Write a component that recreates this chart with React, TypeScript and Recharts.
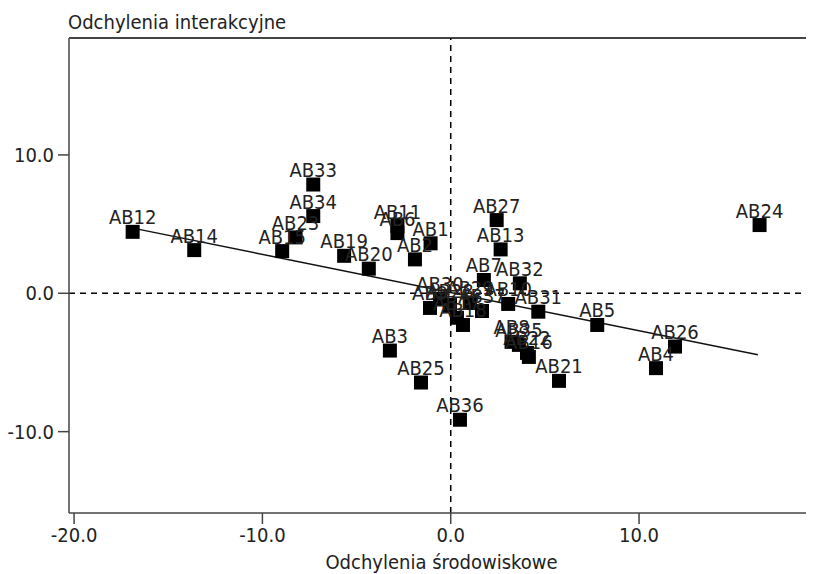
import React from 'react';
import { ScatterChart, Scatter, XAxis, YAxis, ReferenceLine, LabelList } from 'recharts';

const names = [
  'AB12', 'AB14', 'AB15', 'AB23', 'AB34', 'AB33', 'AB19', 'AB20', 'AB11', 'AB6',
  'AB1', 'AB2', 'AB27', 'AB13', 'AB7', 'AB32', 'AB10', 'AB31', 'AB5', 'AB4',
  'AB26', 'AB24', 'AB3', 'AB25', 'AB36', 'AB21', 'AB8', 'AB35', 'AB22', 'AB16',
  'AB9', 'AB30', 'AB28', 'AB17', 'AB18', 'AB29', 'AB37',
];
const envDev = [
  -16.89, -13.62, -8.95, -8.24, -7.30, -7.30, -5.66, -4.35, -2.83, -2.83,
  -1.07, -1.90, 2.44, 2.65, 1.76, 3.67, 3.05, 4.65, 7.78, 10.90,
  11.91, 16.40, -3.23, -1.58, 0.49, 5.75, 3.23, 3.62, 4.05, 4.15,
  -1.10, -0.57, -0.04, 0.33, 0.65, 1.02, 1.66,
];
const interDev = [
  4.44, 3.12, 3.05, 4.04, 5.58, 7.86, 2.71, 1.78, 4.86, 4.35,
  3.61, 2.45, 5.29, 3.17, 0.96, 0.72, -0.77, -1.33, -2.29, -5.41,
  -3.85, 4.93, -4.14, -6.45, -9.14, -6.33, -3.51, -3.73, -4.31, -4.60,
  -1.06, -0.41, -0.85, -1.77, -2.29, -0.70, -1.28,
];

// regression line endpoints
const lineX = [-16.88, 16.31];
const lineY = [4.71, -4.45];

const xTicks = [-20, -10, 0, 10];
const yTicks = [-10, 0, 10];
const xDomain = [-20.27, 19.29];
const yDomain = [-15.88, 18.45];

const xTitle = 'Odchylenia środowiskowe';
const yTitle = 'Odchylenia interakcyjne';

const data = names.map((n, i) => ({ name: n, x: envDev[i], y: interDev[i] }));

const FONT = "'DejaVu Sans Condensed', 'Liberation Sans Narrow', sans-serif";
const TEXT = '#222';
const FS = 20;

const Square = (p: any) => (
  <rect x={p.cx - 7} y={p.cy - 7} width={14} height={14} fill="#000" />
);

export default function App() {
  return (
    <ScatterChart
      width={806}
      height={566}
      margin={{ top: 30, right: 0, bottom: 0, left: 0 }}
      style={{ fontFamily: FONT }}
    >
      <XAxis
        type="number"
        dataKey="x"
        domain={xDomain}
        ticks={xTicks}
        allowDataOverflow
        height={61}
        tickSize={11}
        tickMargin={4}
        stroke="#444"
        strokeWidth={1.5}
        tick={{ fill: TEXT, fontSize: FS, fontFamily: FONT }}
        tickFormatter={(v: number) => v.toFixed(1)}
        label={{
          value: xTitle,
          content: (props: any) => {
            const vb = props.viewBox;
            return (
              <text
                x={vb.x + vb.width / 2}
                y={vb.y + vb.height - 5}
                textAnchor="middle"
                fill={TEXT}
                fontSize={FS}
                fontFamily={FONT}
              >
                {xTitle}
              </text>
            );
          },
        }}
      />
      <YAxis
        type="number"
        dataKey="y"
        domain={yDomain}
        ticks={yTicks}
        allowDataOverflow
        width={61}
        tickSize={11}
        tickMargin={4}
        stroke="#444"
        strokeWidth={1.5}
        tick={{ fill: TEXT, fontSize: FS, fontFamily: FONT }}
        tickFormatter={(v: number) => v.toFixed(1)}
        label={{
          value: yTitle,
          content: (props: any) => {
            const vb = props.viewBox;
            return (
              <text
                x={vb.x + vb.width - 1}
                y={vb.y - 9}
                textAnchor="start"
                fill={TEXT}
                fontSize={FS}
                fontFamily={FONT}
              >
                {yTitle}
              </text>
            );
          },
        }}
      />
      <ReferenceLine y={yDomain[1]} stroke="#444" strokeWidth={2} ifOverflow="visible" />
      <ReferenceLine x={0} stroke="#000" strokeWidth={1.5} strokeDasharray="6 5" />
      <ReferenceLine y={0} stroke="#000" strokeWidth={1.5} strokeDasharray="6 5" />
      <ReferenceLine
        segment={[
          { x: lineX[0], y: lineY[0] },
          { x: lineX[1], y: lineY[1] },
        ]}
        stroke="#111"
        strokeWidth={1.5}
      />
      <Scatter data={data} shape={Square} isAnimationActive={false}>
        <LabelList
          dataKey="name"
          position="top"
          offset={3}
          fill={TEXT}
          fontSize={FS}
          fontFamily={FONT}
        />
      </Scatter>
    </ScatterChart>
  );
}
